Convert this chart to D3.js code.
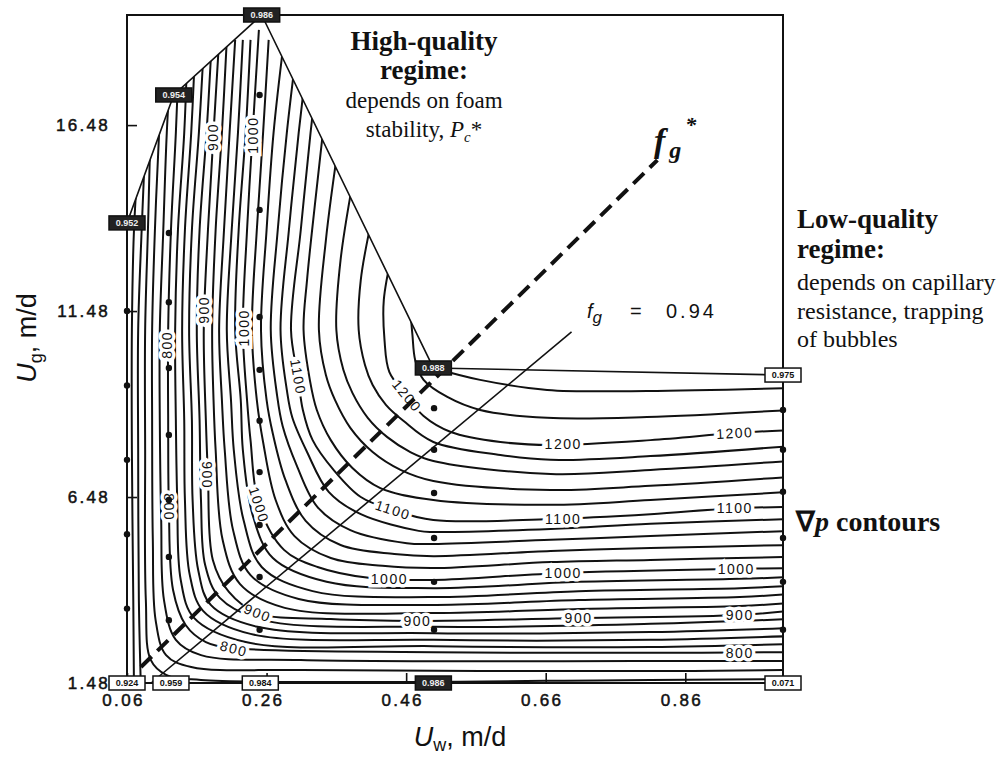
<!DOCTYPE html>
<html>
<head>
<meta charset="utf-8">
<script src="https://cdn.jsdelivr.net/npm/d3@7"></script>
<style>
  body { margin: 0; background: #fff; }
  text { fill: #111; }
</style>
</head>
<body>
<div id="chart"></div>
<script>
// axis ticks
const uwTicks = [0.06, 0.26, 0.46, 0.66, 0.86];
const ugTicks = [1.48, 6.48, 11.48, 16.48];

// data region (hull of the measurements) and the foam-quality boxes on it
const hull = [[0.06,1.48],[0.06,13.85],[0.127,17.29],[0.253,19.44],[0.499,9.95],[1.0,9.76],[1.0,1.48]];
const qualityPts = [[0.253,19.44],[0.127,17.29],[0.06,13.85],[0.499,9.95],[1.0,9.76],
                    [0.06,1.48],[0.123,1.48],[0.251,1.48],[0.499,1.48],[1.0,1.48]];
const qualityText = ["0.986","0.954","0.952","0.988","0.975","0.924","0.959","0.984","0.986","0.071"];
const qualityDark = [true, true, true, true, false, false, false, false, true, false];

// measured points
const samplePts = [
  [0.06,11.48],[0.06,9.48],[0.06,7.48],[0.06,5.48],[0.06,3.48],
  [0.12,13.58],[0.12,11.72],[0.12,9.95],[0.12,8.15],[0.12,6.40],[0.12,4.87],[0.12,3.17],
  [0.25,17.29],[0.25,14.20],[0.25,11.32],[0.25,9.90],[0.25,8.53],[0.25,7.15],[0.25,5.73],[0.25,4.33],[0.25,2.91],
  [0.5,8.87],[0.5,7.75],[0.5,6.59],[0.5,5.38],[0.5,4.20],[0.5,2.91],
  [1.0,8.82],[1.0,7.75],[1.0,6.62],[1.0,5.38],[1.0,4.20],[1.0,2.91]
];

// grad p contour levels and their traced paths [Uw, Ug]
const levels = [700,720,740,760,780,800,820,840,860,880,900,920,940,960,980,
                1000,1020,1040,1060,1080,1100,1120,1140,1160,1180,1200,1220,1240];
const isolines = [
  [[0.077,15.81],[0.070,13.66],[0.067,10.97],[0.067,7.75],[0.069,3.71],[0.070,1.29]],
  [[0.089,17.16],[0.081,13.66],[0.076,10.97],[0.076,7.75],[0.077,3.71],[0.080,1.29]],
  [[0.100,18.23],[0.094,16.27],[0.090,13.66],[0.086,10.97],[0.086,7.75],[0.087,3.71],[0.094,2.10],[0.116,1.70],[0.166,1.56],[0.810,1.56],[1.010,1.59]],
  [[0.112,18.23],[0.106,16.27],[0.100,13.66],[0.096,10.97],[0.096,8.55],[0.097,5.33],[0.101,3.17],[0.116,2.23],[0.152,1.91],[0.309,1.83],[0.810,1.80],[1.010,1.83]],
  [[0.123,18.23],[0.117,16.27],[0.112,13.66],[0.107,10.97],[0.107,8.55],[0.109,5.86],[0.113,3.71],[0.130,2.64],[0.166,2.23],[0.309,2.10],[0.810,2.07],[1.010,2.07]],
  [[0.134,18.23],[0.130,16.27],[0.123,13.66],[0.119,10.97],[0.119,8.55],[0.120,6.21],[0.126,3.98],[0.144,3.04],[0.173,2.58],[0.213,2.42],[0.499,2.31],[0.810,2.29],[1.010,2.31]],
  [[0.146,18.23],[0.142,16.27],[0.133,13.66],[0.129,10.97],[0.130,8.55],[0.132,6.40],[0.137,4.25],[0.156,3.23],[0.230,2.58],[0.499,2.47],[0.810,2.45],[1.010,2.53]],
  [[0.157,18.23],[0.152,16.27],[0.143,13.66],[0.139,10.97],[0.142,8.55],[0.143,6.40],[0.150,4.38],[0.169,3.42],[0.237,2.80],[0.499,2.64],[0.810,2.64],[1.010,2.74]],
  [[0.169,18.23],[0.163,16.27],[0.153,13.66],[0.149,10.97],[0.153,8.55],[0.154,6.40],[0.162,4.52],[0.180,3.58],[0.247,2.99],[0.499,2.82],[0.810,2.85],[1.010,2.96]],
  [[0.180,18.23],[0.174,16.27],[0.164,13.66],[0.160,10.97],[0.164,8.55],[0.166,6.40],[0.172,4.65],[0.193,3.77],[0.256,3.17],[0.499,2.99],[0.810,3.07],[1.010,3.20]],
  [[0.192,18.77],[0.184,16.27],[0.176,13.66],[0.170,10.97],[0.173,8.55],[0.176,7.07],[0.183,4.79],[0.206,3.93],[0.247,3.36],[0.352,3.20],[0.476,3.15],[0.707,3.23],[0.938,3.31],[1.010,3.42]],
  [[0.203,18.77],[0.196,16.27],[0.187,13.66],[0.182,10.97],[0.184,9.09],[0.187,7.75],[0.197,5.33],[0.222,4.14],[0.286,3.50],[0.499,3.36],[0.707,3.47],[0.938,3.55],[1.010,3.63]],
  [[0.215,18.77],[0.207,16.27],[0.199,13.66],[0.192,10.97],[0.196,9.09],[0.200,7.75],[0.212,5.59],[0.237,4.38],[0.306,3.74],[0.499,3.58],[0.707,3.71],[0.938,3.79],[1.010,3.87]],
  [[0.226,18.77],[0.219,16.27],[0.210,13.66],[0.203,10.97],[0.209,9.09],[0.213,7.75],[0.227,5.86],[0.253,4.60],[0.326,3.95],[0.499,3.79],[0.707,3.95],[0.938,4.03],[1.010,4.09]],
  [[0.237,18.77],[0.230,16.27],[0.220,13.66],[0.215,10.97],[0.223,9.09],[0.226,7.75],[0.240,6.00],[0.269,4.84],[0.346,4.20],[0.499,4.03],[0.707,4.20],[0.938,4.28],[1.010,4.33]],
  [[0.249,19.04],[0.240,16.27],[0.232,13.66],[0.226,10.97],[0.232,9.09],[0.237,8.01],[0.249,6.27],[0.285,5.06],[0.333,4.60],[0.409,4.30],[0.499,4.25],[0.684,4.44],[0.933,4.55],[1.010,4.57]],
  [[0.263,18.77],[0.255,16.27],[0.246,13.66],[0.239,10.97],[0.246,9.09],[0.255,7.96],[0.273,6.40],[0.300,5.43],[0.352,4.84],[0.426,4.63],[0.499,4.57],[0.667,4.73],[0.810,4.79],[1.010,4.87]],
  [[0.285,18.77],[0.270,16.27],[0.260,13.66],[0.252,10.97],[0.260,9.09],[0.269,8.18],[0.287,6.94],[0.316,5.84],[0.366,5.19],[0.443,4.95],[0.499,4.89],[0.667,5.03],[0.810,5.11],[1.010,5.19]],
  [[0.303,18.50],[0.289,16.27],[0.276,13.66],[0.266,10.97],[0.275,9.22],[0.283,8.39],[0.303,7.34],[0.333,6.21],[0.380,5.59],[0.461,5.24],[0.499,5.22],[0.667,5.33],[0.810,5.43],[1.010,5.57]],
  [[0.320,18.50],[0.306,16.27],[0.292,13.66],[0.280,10.97],[0.289,9.36],[0.297,8.61],[0.318,7.69],[0.349,6.62],[0.395,6.02],[0.478,5.57],[0.499,5.54],[0.667,5.62],[0.810,5.76],[1.010,5.89]],
  [[0.335,18.23],[0.323,16.27],[0.309,13.66],[0.295,10.97],[0.305,9.71],[0.312,8.82],[0.326,8.01],[0.356,7.21],[0.395,6.48],[0.441,6.13],[0.499,5.86],[0.667,5.89],[0.810,6.02],[0.931,6.18],[1.010,6.21]],
  [[0.346,17.16],[0.330,14.47],[0.318,12.32],[0.313,10.97],[0.322,9.63],[0.332,8.82],[0.352,8.01],[0.383,7.26],[0.423,6.72],[0.499,6.40],[0.667,6.27],[0.810,6.40],[1.010,6.62]],
  [[0.366,16.35],[0.345,13.39],[0.335,10.97],[0.345,9.76],[0.358,9.09],[0.380,8.34],[0.412,7.69],[0.452,7.21],[0.499,6.91],[0.667,6.67],[0.810,6.78],[1.010,7.02]],
  [[0.388,15.41],[0.366,12.85],[0.360,10.97],[0.370,9.90],[0.383,9.28],[0.405,8.61],[0.433,8.09],[0.466,7.69],[0.499,7.45],[0.667,7.10],[0.810,7.21],[1.010,7.45]],
  [[0.412,14.06],[0.395,12.32],[0.392,10.97],[0.401,10.03],[0.412,9.49],[0.431,8.96],[0.456,8.53],[0.499,7.96],[0.595,7.61],[0.667,7.48],[0.810,7.58],[1.010,7.85]],
  [[0.441,13.12],[0.428,11.78],[0.429,10.70],[0.436,9.84],[0.461,9.20],[0.485,8.66],[0.524,8.23],[0.595,7.96],[0.667,7.88],[0.810,8.01],[0.931,8.20],[1.010,8.28]],
  [[0.466,11.51],[0.469,10.84],[0.473,10.16],[0.485,9.63],[0.519,9.17],[0.566,8.82],[0.662,8.61],[0.805,8.63],[1.010,8.82]],
  [[0.499,9.95],[0.566,9.63],[0.662,9.36],[0.805,9.33],[1.010,9.41]]
];

// contour labels: text and anchor [Uw, Ug]
const labelText = ["900","1000","800","900","1000","1100","800","900","1000","900","800",
                   "1100","1200","1000","900","1200","1100","1000","900","1200","1100","1000","900","800"];
const labelPts = [[0.184,16.16],[0.240,16.21],[0.118,10.57],[0.171,11.51],[0.228,11.03],[0.305,9.71],
                  [0.120,6.21],[0.175,7.07],[0.249,6.27],[0.247,3.36],[0.213,2.40],
                  [0.441,6.13],[0.461,9.20],[0.436,4.28],[0.476,3.15],
                  [0.685,7.89],[0.685,5.89],[0.685,4.44],[0.707,3.23],
                  [0.931,8.20],[0.931,6.18],[0.933,4.55],[0.938,3.31],[0.938,2.29]];
const labelAngles = [-90,-90,-90,-90,-90,80,90,90,72,22,15,18,50,0,0,0,0,0,0,-3,0,0,0,0];

// foam-quality lines
const fgStarLine = [[0.080,1.91],[0.820,15.54]];
const fg94Line = [[0.0945,1.48],[0.697,10.92]];

const w = 1007, h = 757;
const svg = d3.select("#chart").append("svg")
    .attr("width", w)
    .attr("height", h);

const x = d3.scaleLinear().domain([0.06, 1.0]).range([127, 783]);
const y = d3.scaleLinear().domain([1.48, 19.44]).range([683, 15]);

const straight = d3.line().x(d => x(d[0])).y(d => y(d[1]));
const smooth = d3.line().x(d => x(d[0])).y(d => y(d[1])).curve(d3.curveCatmullRom.alpha(0.5));

svg.append("defs").append("clipPath")
    .attr("id", "region")
  .append("path")
    .attr("d", straight(hull) + "Z");

// contours
svg.append("g")
    .attr("clip-path", "url(#region)")
  .selectAll("path")
  .data(isolines)
  .join("path")
    .attr("d", smooth)
    .attr("fill", "none")
    .attr("stroke", "#111")
    .attr("stroke-width", 2);

// contour labels with white halo to break the lines
svg.append("g")
  .selectAll("text")
  .data(labelText)
  .join("text")
    .attr("transform", (d, i) => `translate(${x(labelPts[i][0])},${y(labelPts[i][1])}) rotate(${labelAngles[i]})`)
    .attr("text-anchor", "middle")
    .attr("dy", "0.35em")
    .attr("font-family", "Liberation Sans, Arial, sans-serif")
    .attr("font-size", "14px")
    .attr("letter-spacing", "1.5px")
    .attr("stroke", "#fff")
    .attr("stroke-width", 7)
    .style("paint-order", "stroke")
    .text(d => d);

// region boundary
svg.append("path")
    .attr("d", straight(hull) + "Z")
    .attr("fill", "none")
    .attr("stroke", "#111")
    .attr("stroke-width", 1.6);

// frame
svg.append("rect")
    .attr("x", x(0.06)).attr("y", y(19.44))
    .attr("width", x(1.0) - x(0.06)).attr("height", y(1.48) - y(19.44))
    .attr("fill", "none")
    .attr("stroke", "#111")
    .attr("stroke-width", 2);

// axes with inward ticks
const xAxis = d3.axisBottom(x).tickValues(uwTicks).tickFormat(d3.format(".2f"))
    .tickSizeInner(-10).tickSizeOuter(0).tickPadding(11);
const yAxis = d3.axisLeft(y).tickValues(ugTicks).tickFormat(d3.format(".2f"))
    .tickSizeInner(-10).tickSizeOuter(0).tickPadding(17);

const gx = svg.append("g").attr("transform", `translate(0,${y(1.48)})`).call(xAxis);
const gy = svg.append("g").attr("transform", `translate(${x(0.06)},0)`).call(yAxis);
[gx, gy].forEach(g => {
  g.select(".domain").remove();
  g.selectAll("line").attr("stroke", "#111").attr("stroke-width", 1.6);
  g.selectAll("text")
    .attr("font-family", "Liberation Sans, Arial, sans-serif")
    .attr("font-size", "17px")
    .attr("letter-spacing", "2.3px")
    .attr("fill", "#111")
    .attr("stroke", "#111")
    .attr("stroke-width", 0.5);
});
gx.selectAll("text").attr("dx", "-4px");

// f_g lines
svg.append("path")
    .attr("d", straight(fg94Line))
    .attr("stroke", "#111").attr("stroke-width", 1.6).attr("fill", "none");
svg.append("path")
    .attr("d", straight(fgStarLine))
    .attr("stroke", "#111").attr("stroke-width", 4).attr("fill", "none")
    .attr("stroke-dasharray", "15,8");

// measured points
svg.append("g")
  .selectAll("circle")
  .data(samplePts)
  .join("circle")
    .attr("cx", d => x(d[0]))
    .attr("cy", d => y(d[1]))
    .attr("r", 3.2)
    .attr("fill", "#111");

// quality boxes
const qb = svg.append("g")
  .selectAll("g")
  .data(qualityPts)
  .join("g")
    .attr("transform", d => `translate(${x(d[0])},${y(d[1])})`);
qb.append("rect")
    .attr("x", -18).attr("y", -7).attr("width", 36).attr("height", 14)
    .attr("fill", (d, i) => qualityDark[i] ? "#222" : "#fff")
    .attr("stroke", "#111").attr("stroke-width", 1.5);
qb.append("text")
    .attr("text-anchor", "middle").attr("dy", "0.35em")
    .attr("font-family", "Liberation Sans, Arial, sans-serif")
    .attr("font-size", "9px").attr("font-weight", "bold")
    .style("fill", (d, i) => qualityDark[i] ? "#eee" : "#111")
    .text((d, i) => qualityText[i]);

// axis titles
const sans = "Liberation Sans, Arial, sans-serif";
const serif = "Liberation Serif, Times New Roman, serif";

const xt = svg.append("text")
    .attr("x", 460).attr("y", 746)
    .attr("text-anchor", "middle")
    .attr("font-family", sans).attr("font-size", "27px");
xt.append("tspan").attr("font-style", "italic").text("U");
xt.append("tspan").attr("font-size", "18px").attr("dy", 5).text("w");
xt.append("tspan").attr("dy", -5).text(", m/d");

const yt = svg.append("text")
    .attr("transform", "translate(36,338) rotate(-90)")
    .attr("text-anchor", "middle")
    .attr("font-family", sans).attr("font-size", "27px");
yt.append("tspan").attr("font-style", "italic").text("U");
yt.append("tspan").attr("font-size", "18px").attr("dy", 6).text("g");
yt.append("tspan").attr("dy", -6).text(", m/d");

// annotations
function lines(x0, y0, anchor, rows) {
  rows.forEach(r => {
    const t = svg.append("text")
        .attr("x", x0).attr("y", r.y)
        .attr("text-anchor", anchor)
        .attr("font-family", serif)
        .attr("font-size", r.size + "px")
        .attr("font-weight", r.bold ? "bold" : "normal");
    r.parts.forEach(p => {
      const s = t.append("tspan").text(p.t);
      if (p.it) s.attr("font-style", "italic");
      if (p.sub) s.attr("font-size", (r.size * 0.65) + "px").attr("dy", 5);
      if (p.up) s.attr("dy", p.up);
    });
  });
}

lines(424, 0, "middle", [
  { y: 50, size: 27, bold: true, parts: [{ t: "High-quality" }] },
  { y: 79, size: 27, bold: true, parts: [{ t: "regime:" }] },
  { y: 108, size: 23, parts: [{ t: "depends on foam" }] },
  { y: 137, size: 23, parts: [{ t: "stability, " }, { t: "P", it: true }, { t: "c", it: true, sub: true }, { t: "*", up: -5 }] }
]);

lines(797, 0, "start", [
  { y: 228, size: 27, bold: true, parts: [{ t: "Low-quality" }] },
  { y: 258, size: 27, bold: true, parts: [{ t: "regime:" }] },
  { y: 290, size: 24, parts: [{ t: "depends on capillary" }] },
  { y: 319, size: 24, parts: [{ t: "resistance, trapping" }] },
  { y: 347, size: 24, parts: [{ t: "of bubbles" }] }
]);

const np = svg.append("text")
    .attr("x", 796).attr("y", 531)
    .attr("font-family", serif).attr("font-size", "28px").attr("font-weight", "bold");
np.append("tspan").text("\u2207");
np.append("tspan").attr("font-style", "italic").text("p");
np.append("tspan").text(" contours");

const fs = svg.append("text")
    .attr("x", 654).attr("y", 152)
    .attr("font-family", serif).attr("font-size", "34px")
    .attr("font-weight", "bold").attr("font-style", "italic");
fs.append("tspan").text("f");
fs.append("tspan").attr("font-size", "24px").attr("dx", 4).attr("dy", 6).text("g");
fs.append("tspan").attr("font-size", "22px").attr("dx", 4).attr("dy", -26).text("*");

const f94 = svg.append("text")
    .attr("x", 587).attr("y", 318)
    .attr("font-family", sans).attr("font-size", "20px");
f94.append("tspan").attr("font-style", "italic").text("f");
f94.append("tspan").attr("font-size", "17px").attr("font-style", "italic").attr("dy", 5).text("g");
f94.append("tspan").attr("dy", -5).attr("x", 630).attr("letter-spacing", "3px").text("=");
f94.append("tspan").attr("x", 666).attr("letter-spacing", "3px").text("0.94");
</script>
</body>
</html>
